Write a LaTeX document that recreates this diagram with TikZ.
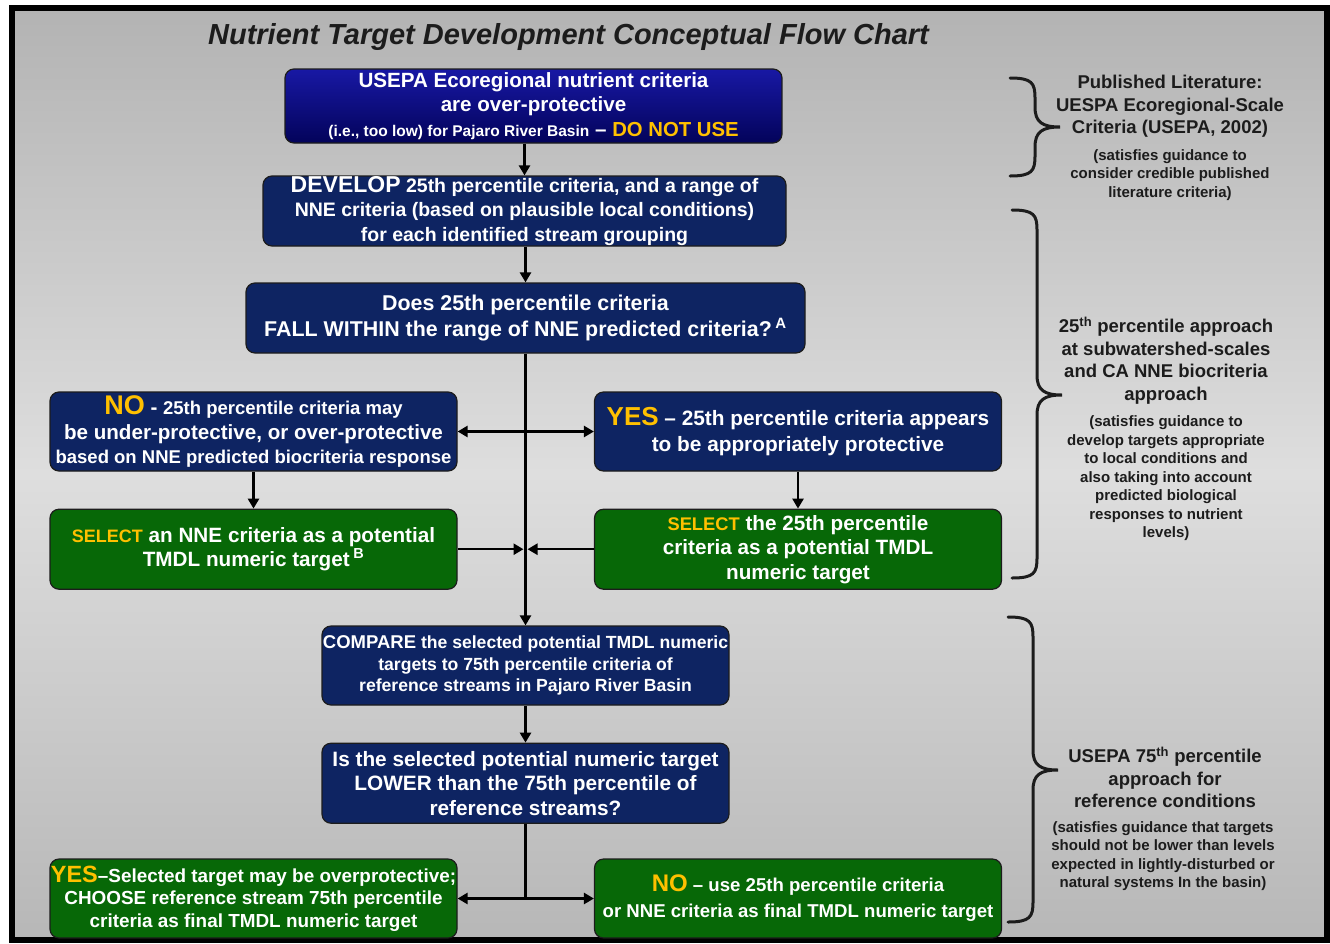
\documentclass[tikz,border=0pt]{standalone}
\usepackage{fontspec}
\setmainfont{Liberation Sans}
\usetikzlibrary{positioning, arrows.meta}

\definecolor{navy}{HTML}{0E2462}
\definecolor{royal}{HTML}{1818A4}
\definecolor{deepnavy}{HTML}{03035A}
\definecolor{leaf}{HTML}{076807}
\definecolor{gold}{HTML}{FFC000}
\definecolor{ink}{HTML}{1C1C1C}
\definecolor{panelA}{HTML}{B3B3B3}
\definecolor{panelB}{HTML}{DEDEDE}
\definecolor{panelC}{HTML}{B7B7B7}

\newcommand{\hi}[1]{\textcolor{gold}{#1}}
\newcommand{\fs}[2]{\fontsize{#1}{#2}\selectfont}
% right hand curly bracket: ends at x=#1, top #2, bottom #3, point at #4
\newcommand{\sidebrace}[4]{%
  \draw[line width=3pt, line cap=round, ink]
    (#1,#2) .. controls (#1+22,#2) and (#1+25,#2-5) .. (#1+25,#2-20)
    -- (#1+25,#4+20) .. controls (#1+25,#4+5) and (#1+32,#4) .. (#1+50,#4)
    .. controls (#1+32,#4) and (#1+25,#4-5) .. (#1+25,#4-20)
    -- (#1+25,#3+20) .. controls (#1+25,#3+5) and (#1+22,#3) .. (#1,#3);}

\begin{document}
\begin{tikzpicture}
	[x=1pt, y=1pt, >={Triangle[length=10pt,width=11pt]},
	 box/.style={draw=ink, line width=1.2pt, rounded corners=9pt, text=white,
	   align=center, inner sep=0pt, font=\bfseries\fs{19.5}{24.5}},
	 bluebox/.style={box, fill=navy, minimum width=407pt, minimum height=79pt},
	 greenbox/.style={box, fill=leaf, minimum width=407pt, minimum height=80pt},
	 head/.style={align=center, text=ink, font=\bfseries\fs{18.5}{22.5}},
	 note/.style={align=center, text=ink, font=\bfseries\fs{15}{18.5}},
	 flow/.style={line width=2.5pt}]
   \useasboundingbox (0,0) rectangle (1330,-943);
   % grey panel
   \fill[top color=panelA, bottom color=panelC, middle color=panelB] (12,-8) rectangle (1327,-940);
   \draw[line width=6pt] (12,-8) rectangle (1327,-940);

   \node[font=\bfseries\itshape\fs{29}{30}, text=ink] (title) at (568.5,-37)
      {Nutrient Target Development Conceptual Flow Chart};

   % main column
   \node[box, top color=royal, bottom color=deepnavy, minimum width=497pt, minimum height=74pt, font=\bfseries\fs{20.6}{24.5}] (usepa) at (533.5,-106)
      {USEPA Ecoregional nutrient criteria\\are over-protective\\{\fs{15.5}{20}(i.e., too low) for Pajaro River Basin} -- {\fs{20.3}{20}\hi{DO NOT USE}}};
   \node[box, fill=navy, minimum width=523pt, minimum height=70pt] (develop) at (524.5,-211)
      {{\fs{23}{24}DEVELOP} 25th percentile criteria, and a range of\\NNE criteria (based on plausible local conditions)\\for each identified stream grouping};
   \node[box, fill=navy, minimum width=559pt, minimum height=70pt, font=\bfseries\fs{21.4}{26}] (does) at (525.5,-318)
      {Does 25th percentile criteria\\FALL WITHIN the range of NNE predicted criteria?\,\textsuperscript{A}};

   \node[bluebox, font=\bfseries\fs{20.6}{24.5}] (no) at (253.5,-431.5)
      {{\fs{27}{26}\hi{NO}} - {\fs{18.5}{26}25th percentile criteria may}\\be under-protective, or over-protective\\{\fs{18.5}{24}based on NNE predicted biocriteria response}};
   \node[bluebox, font=\bfseries\fs{20.8}{26}] (yes) at (798,-431.5)
      {{\fs{26}{26}\hi{YES}} -- 25th percentile criteria appears\\to be appropriately protective};

   \node[greenbox, font=\bfseries\fs{20.7}{24}] (selNNE) [below=37pt of no]
      {{\fs{18}{24}\hi{SELECT}} an NNE criteria as a potential\\TMDL numeric target\,\textsuperscript{B}};
   \node[greenbox, font=\bfseries\fs{20.7}{24.5}] (sel25) [below=37pt of yes]
      {{\fs{18.3}{24}\hi{SELECT}} the 25th percentile\\criteria as a potential TMDL\\numeric target};

   \node[bluebox, font=\bfseries\fs{17.6}{21.5}] (compare) at (525.5,-665.5)
      {{\fs{18.5}{21.5}COMPARE} the selected potential TMDL numeric\\targets to 75th percentile criteria of\\reference streams in Pajaro River Basin};
   \node[bluebox, minimum height=80pt, font=\bfseries\fs{20.8}{24.5}] (lower) [below=37pt of compare]
      {Is the selected potential numeric target\\LOWER than the 75th percentile of\\reference streams?};

   \node[greenbox, minimum height=79pt, font=\bfseries\fs{18.9}{22.5}] (yesB) at (253.5,-898.5)
      {{\fs{23.5}{22}\hi{YES}}--Selected target may be overprotective;\\CHOOSE reference stream 75th percentile\\criteria as final TMDL numeric target};
   \node[greenbox, minimum height=79pt, font=\bfseries\fs{18.6}{26}] (noB) at (798,-898.5)
      {{\fs{24}{26}\hi{NO}} -- use 25th percentile criteria\\or NNE criteria as final TMDL numeric target};

   % connectors
   \path[flow, ->]
    (usepa.south -| develop.north) edge (develop.north)
    (develop.south -| does.north) edge (does.north)
    (no) edge (selNNE)
    (yes) edge (sel25)
    (compare) edge (lower);
   \draw[flow, ->] (does.south) -- (compare.north);
   \draw[flow, <->] (no.east) -- (yes.west);
   \draw[flow, ->, shorten >=2pt] (selNNE.east) -- (selNNE.east -| does.south);
   \draw[flow, ->, shorten >=2pt] (sel25.west) -- (sel25.west -| does.south);
   \draw[flow] (lower.south) -- (lower.south |- yesB.east);
   \draw[flow, <->] (yesB.east) -- (noB.west);

   % side notes
   \sidebrace{1010}{-78}{-176}{-127}
   \sidebrace{1012}{-210}{-578}{-395}
   \sidebrace{1008}{-617}{-922}{-770}

   \node[head] (litHead) at (1170,-106.5)
      {Published Literature:\\UESPA Ecoregional-Scale\\Criteria (USEPA, 2002)};
   \node[note] (litNote) at (1170,-175)
      {(satisfies guidance to\\consider credible published\\literature criteria)};
   \node[head] (nneHead) at (1166,-360.5)
      {25\textsuperscript{th} percentile approach\\at subwatershed-scales\\and CA NNE biocriteria\\approach};
   \node[note] (nneNote) at (1166,-478.5)
      {(satisfies guidance to\\develop targets appropriate\\to local conditions and\\also taking into account\\predicted biological\\responses to nutrient\\levels)};
   \node[head] (refHead) at (1165,-777.5)
      {USEPA 75\textsuperscript{th} percentile\\approach for\\reference conditions};
   \node[note] (refNote) at (1163,-856)
      {(satisfies guidance that targets\\should not be lower than levels\\expected in lightly-disturbed or\\natural systems In the basin)};
\end{tikzpicture}
\end{document}
